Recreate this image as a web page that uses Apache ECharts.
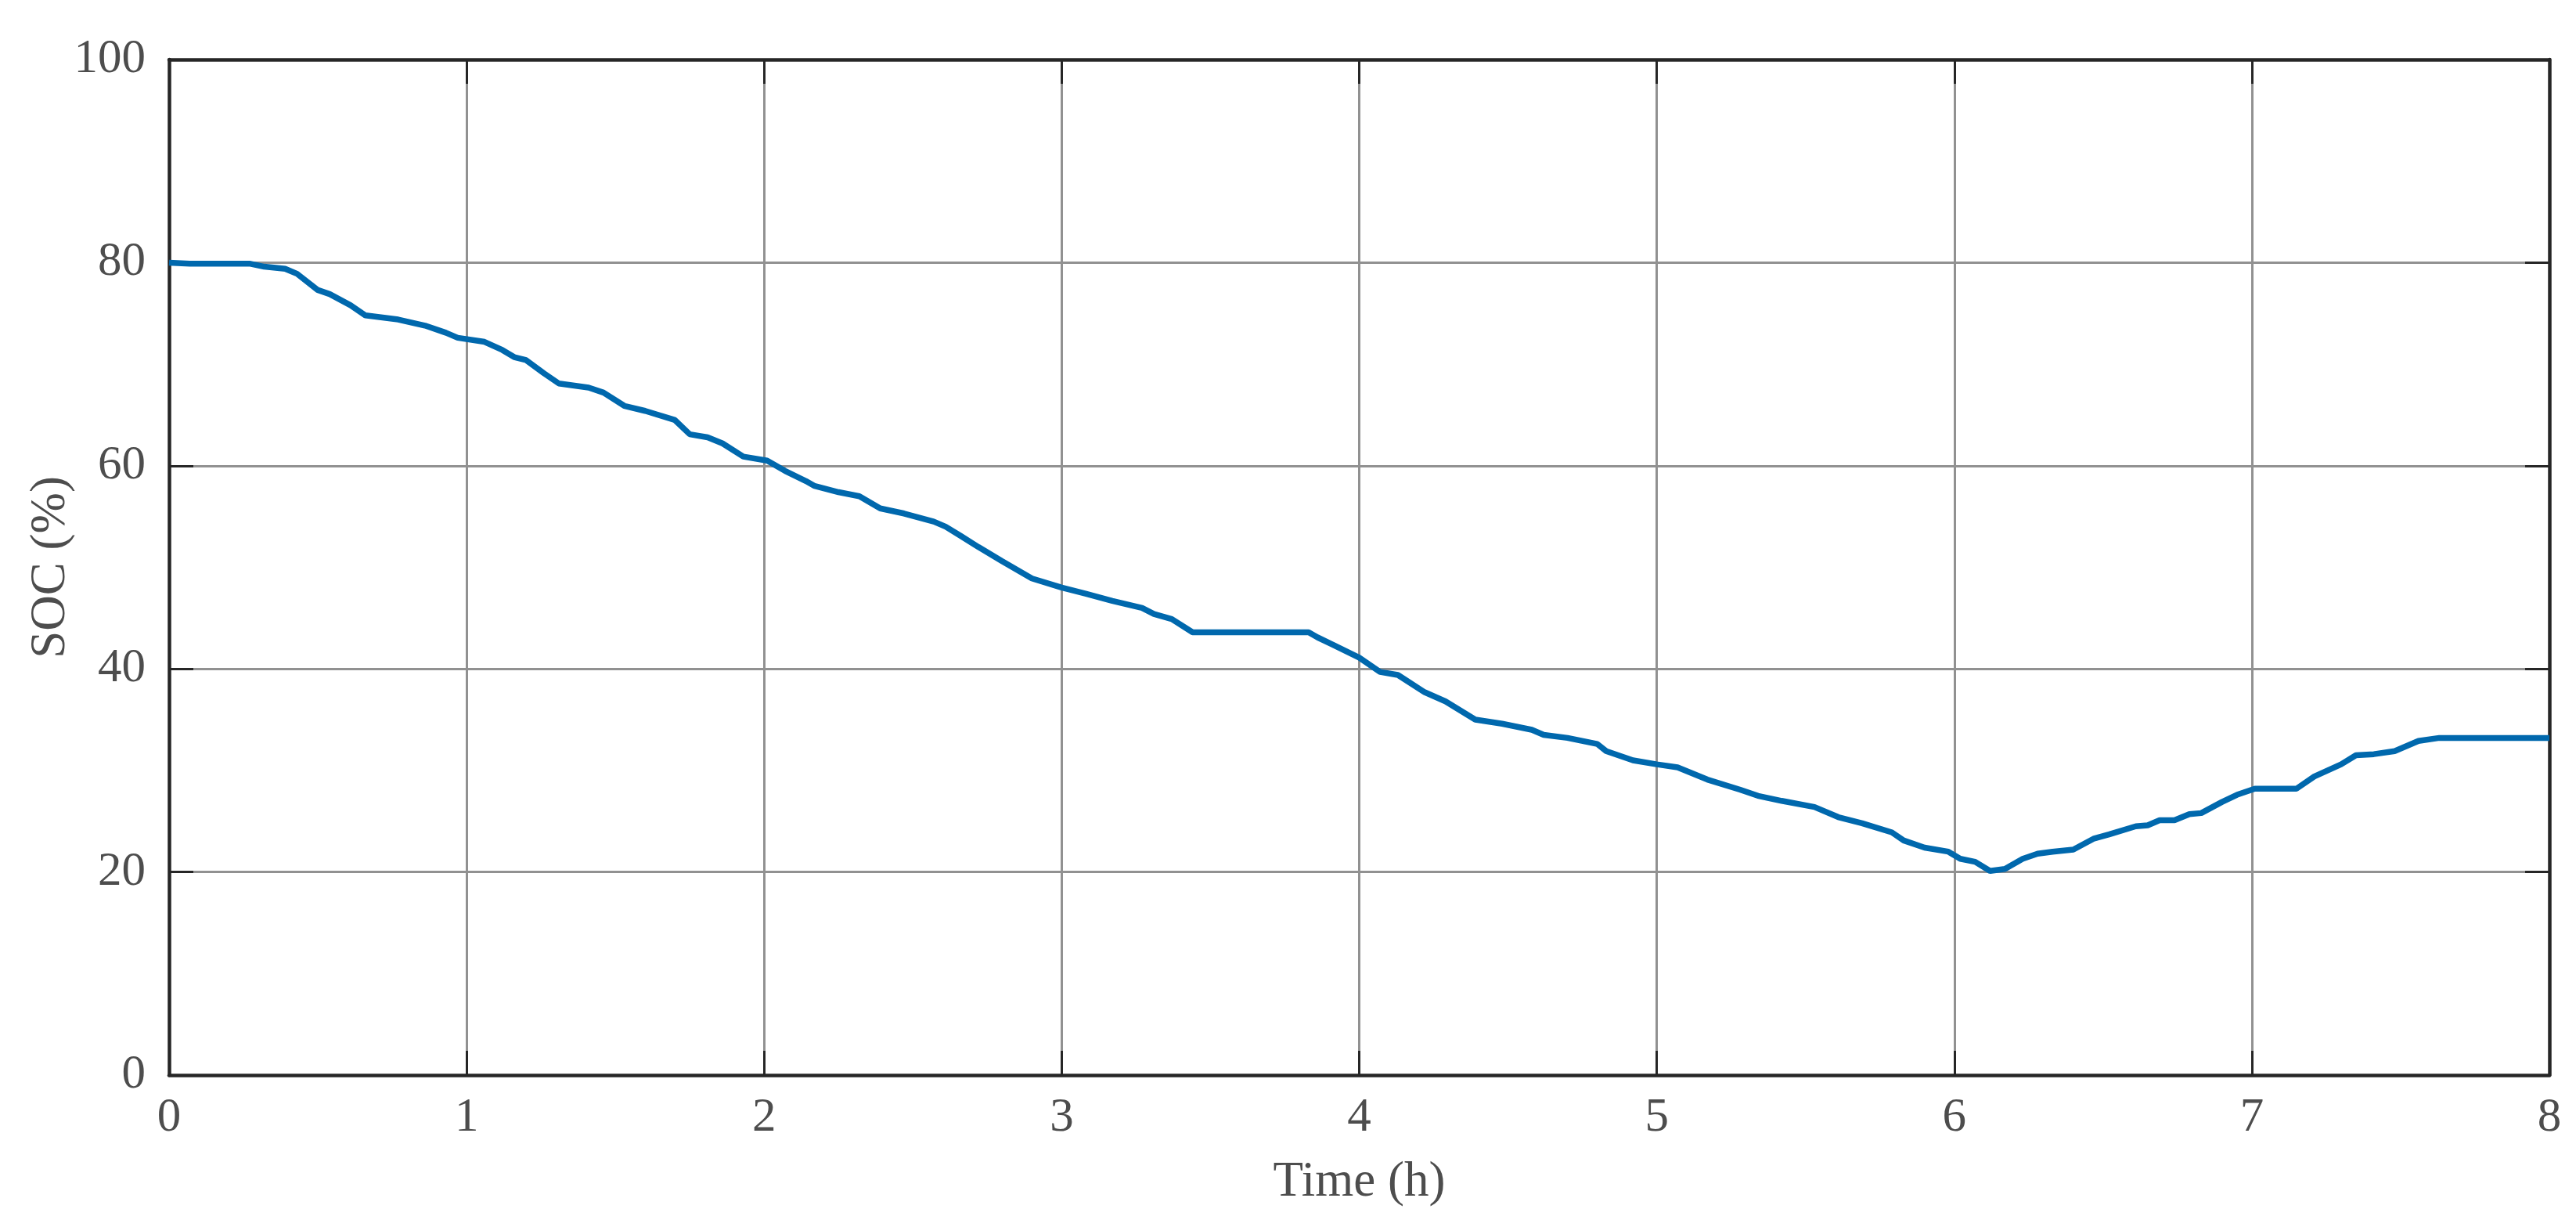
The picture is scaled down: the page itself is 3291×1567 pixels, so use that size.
<!DOCTYPE html>
<html>
<head>
<meta charset="utf-8">
<title>SOC</title>
<script src="https://cdn.jsdelivr.net/npm/echarts@6/dist/echarts.min.js"></script>
<style>
  html, body { margin: 0; padding: 0; background: #fff; }
  #chart { width: 3291px; height: 1567px; }
</style>
</head>
<body>
<div id="chart"></div>
<script>
// time (h) and state of charge (%)
const timeH = [
  0, 0.07, 0.27, 0.32, 0.39, 0.43, 0.50, 0.54, 0.61, 0.66,
  0.77, 0.86, 0.93, 0.97, 1.06, 1.12, 1.16, 1.20, 1.26, 1.31,
  1.41, 1.46, 1.53, 1.60, 1.70, 1.75, 1.81, 1.86, 1.93, 2.01,
  2.07, 2.14, 2.17, 2.25, 2.32, 2.39, 2.47, 2.57, 2.61, 2.66,
  2.72, 2.80, 2.90, 3.00, 3.08, 3.17, 3.27, 3.31, 3.37, 3.44,
  3.83, 3.86, 3.91, 4.00, 4.07, 4.13, 4.22, 4.29, 4.39, 4.48,
  4.58, 4.62, 4.70, 4.80, 4.83, 4.92, 5.00, 5.07, 5.17, 5.28,
  5.34, 5.42, 5.53, 5.61, 5.69, 5.79, 5.83, 5.90, 5.98, 6.02,
  6.07, 6.12, 6.17, 6.23, 6.28, 6.33, 6.40, 6.47, 6.52, 6.61,
  6.65, 6.69, 6.74, 6.79, 6.83, 6.90, 6.95, 7.01, 7.15, 7.21,
  7.30, 7.35, 7.41, 7.48, 7.56, 7.63, 8.00
]
const socPct = [
  80.0, 79.9, 79.9, 79.6, 79.4, 78.9, 77.3, 76.9, 75.8, 74.8,
  74.4, 73.8, 73.1, 72.6, 72.2, 71.4, 70.7, 70.4, 69.1, 68.1,
  67.7, 67.2, 65.9, 65.4, 64.5, 63.1, 62.8, 62.2, 60.9, 60.5,
  59.5, 58.5, 58.0, 57.4, 57.0, 55.8, 55.3, 54.5, 54.0, 53.1,
  52.0, 50.6, 48.9, 48.0, 47.4, 46.7, 46.0, 45.4, 44.9, 43.6,
  43.6, 43.1, 42.4, 41.1, 39.7, 39.4, 37.7, 36.8, 35.0, 34.6,
  34.0, 33.5, 33.2, 32.6, 31.9, 31.0, 30.6, 30.3, 29.1, 28.1,
  27.5, 27.0, 26.4, 25.4, 24.8, 23.9, 23.1, 22.4, 22.0, 21.3,
  21.0, 20.1, 20.3, 21.3, 21.8, 22.0, 22.2, 23.3, 23.7, 24.5,
  24.6, 25.1, 25.1, 25.7, 25.8, 26.9, 27.6, 28.2, 28.2, 29.4,
  30.6, 31.5, 31.6, 31.9, 32.9, 33.2, 33.2
]
const xTicks = [0, 1, 2, 3, 4, 5, 6, 7, 8]
const yTicks = [0, 20, 40, 60, 80, 100]

const fontFamily = 'Liberation Serif'
const textColor = '#4d4d4d'
const boxColor = '#262626'

const chart = echarts.init(document.getElementById('chart'))

// shared axis look (matlab-style box with inward ticks)
const boxLine = { show: true, onZero: false, lineStyle: { color: boxColor, width: 4.5 } }
const inTick = { show: true, inside: true, length: 31, lineStyle: { color: boxColor, width: 3 } }
const labelStyle = { color: textColor, fontFamily: fontFamily, fontSize: 61 }

const xRange = { min: xTicks[0], max: xTicks[xTicks.length - 1], interval: xTicks[1] - xTicks[0] }
const yRange = { min: yTicks[0], max: yTicks[yTicks.length - 1], interval: yTicks[1] - yTicks[0] }

const option = {
  animation: false,
  backgroundColor: '#fff',
  grid: { left: 216, right: 34, top: 76, bottom: 194, containLabel: false },
  xAxis: [
    {
      type: 'value',
      position: 'bottom',
      ...xRange,
      name: 'Time (h)',
      nameLocation: 'middle',
      nameGap: 106,
      nameTextStyle: { ...labelStyle, fontSize: 63 },
      axisLine: boxLine,
      axisTick: inTick,
      axisLabel: { ...labelStyle, margin: 24 },
      splitLine: { show: true, lineStyle: { color: '#919191', width: 3 } }
    },
    {
      type: 'value',
      position: 'top',
      ...xRange,
      axisLine: boxLine,
      axisTick: inTick,
      axisLabel: { show: false },
      splitLine: { show: false }
    }
  ],
  yAxis: [
    {
      type: 'value',
      position: 'left',
      ...yRange,
      name: 'SOC (%)',
      nameLocation: 'middle',
      nameGap: 119,
      nameMoveOverlap: false,
      nameTextStyle: { ...labelStyle, fontSize: 63 },
      axisLine: boxLine,
      axisTick: inTick,
      axisLabel: { ...labelStyle, margin: 30 },
      splitLine: { show: true, lineStyle: { color: '#919191', width: 3 } }
    },
    {
      type: 'value',
      position: 'right',
      ...yRange,
      axisLine: boxLine,
      axisTick: inTick,
      axisLabel: { show: false },
      splitLine: { show: false }
    }
  ],
  series: [
    {
      type: 'line',
      xAxisIndex: 0,
      yAxisIndex: 0,
      showSymbol: false,
      symbol: 'none',
      lineStyle: { color: '#0068ad', width: 7.5 },
      data: timeH.map((t, i) => [t, socPct[i]]),
      z: 5
    }
  ]
}

chart.setOption(option)

window.addEventListener('resize', () => {
  chart.resize()
})
</script>
</body>
</html>
